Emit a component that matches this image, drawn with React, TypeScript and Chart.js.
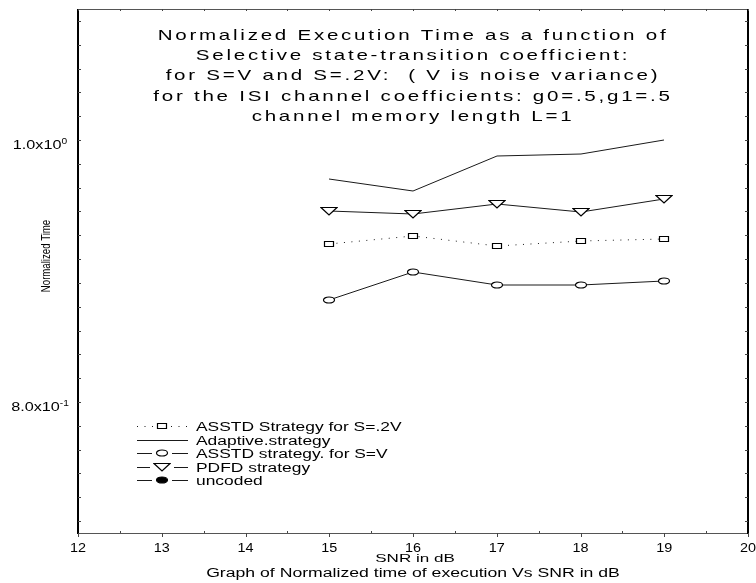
import React, { useEffect, useRef } from 'react';
import { Chart, registerables } from 'chart.js';

Chart.register(...registerables);

// ---------------- data ----------------
const snrDb = [15, 16, 17, 18, 19];
const asstd02V = [0.9204, 0.927, 0.919, 0.923, 0.9245];
const adaptive = [0.970, 0.961, 0.988, 0.989, 1.0];
const asstdV = [0.878, 0.899, 0.889, 0.889, 0.892];
const pdfd = [0.946, 0.9435, 0.951, 0.945, 0.955];
const uncoded: number[] = [];

const seriesLabels = [
  'ASSTD Strategy for S=.2V',
  'Adaptive.strategy',
  'ASSTD strategy. for S=V',
  'PDFD strategy',
  'uncoded',
];

const xTickValues = [12, 13, 14, 15, 16, 17, 18, 19, 20];
const xTickLabels = ['12', '13', '14', '15', '16', '17', '18', '19', '20'];
const yTickValues = [1.0, 0.8];
const yTickMantissas = ['1.0x10', '8.0x10'];
const yTickExponents = ['0', '-1'];
const yMinorPerLabel = 11;

const titleLines = [
  'Normalized Execution Time as a function of',
  'Selective state-transition coefficient:',
  'for S=V and S=.2V:  ( V is noise variance)',
  'for the ISI channel coefficients: g0=.5,g1=.5',
  'channel memory length L=1',
];
const xTitle = 'SNR in dB';
const caption = 'Graph of Normalized time of execution Vs SNR in dB';
const yTitle = 'Normalized Time';

// ---------------- helpers ----------------
const FONT = '"Liberation Sans", Arial, Helvetica, sans-serif';
const INK = '#1a1a1a';

function drawText(
  ctx: CanvasRenderingContext2D,
  text: string,
  x: number,
  y: number,
  size: number,
  sx: number,
  align: CanvasTextAlign = 'center',
  ls = 0
) {
  ctx.save();
  ctx.font = `${size}px ${FONT}`;
  (ctx as any).letterSpacing = `${ls}px`;
  ctx.fillStyle = '#000';
  ctx.textAlign = align;
  ctx.textBaseline = 'alphabetic';
  ctx.translate(x, y);
  ctx.scale(sx, 1);
  ctx.fillText(text, 0, 0);
  ctx.restore();
}

type MarkerKind = 'circle' | 'square' | 'triangle' | 'dot';

function makeMarker(kind: MarkerKind): HTMLCanvasElement {
  const c = document.createElement('canvas');
  const dims: Record<MarkerKind, [number, number]> = {
    circle: [14, 8],
    square: [12, 8],
    triangle: [18, 10],
    dot: [14, 8],
  };
  const [w, h] = dims[kind];
  c.width = w;
  c.height = h;
  const g = c.getContext('2d')!;
  g.lineWidth = 1.2;
  g.strokeStyle = '#000';
  g.fillStyle = kind === 'dot' ? '#000' : '#fff';
  g.beginPath();
  if (kind === 'circle' || kind === 'dot') {
    g.ellipse(w / 2, h / 2, 5.5, 3, 0, 0, Math.PI * 2);
  } else if (kind === 'square') {
    g.rect(1.5, 1.5, 9, 5);
  } else {
    g.moveTo(1, 1.5);
    g.lineTo(w - 1, 1.5);
    g.lineTo(w / 2, h - 1);
    g.closePath();
  }
  g.fill();
  g.stroke();
  return c;
}

function pts(ys: number[]) {
  return ys.map((y, i) => ({ x: snrDb[i], y }));
}

export default function App() {
  const canvasRef = useRef<HTMLCanvasElement | null>(null);

  useEffect(() => {
    const canvas = canvasRef.current;
    if (!canvas) return;

    const markers = {
      square: makeMarker('square'),
      circle: makeMarker('circle'),
      triangle: makeMarker('triangle'),
      dot: makeMarker('dot'),
    };

    // snap points to whole pixels so the marker images stay crisp
    const snapPlugin = {
      id: 'snapPoints',
      beforeDatasetsDraw(chart: any) {
        chart.data.datasets.forEach((_: any, i: number) => {
          const meta = chart.getDatasetMeta(i);
          meta.data.forEach((el: any) => {
            el.x = Math.round(el.x);
            el.y = Math.round(el.y);
          });
        });
      },
    };

    const framePlugin = {
      id: 'frameAndText',
      afterDraw(chart: any) {
        const ctx: CanvasRenderingContext2D = chart.ctx;
        const { left, right, top, bottom } = chart.chartArea;
        const xs = chart.scales.x;
        const ys = chart.scales.y;
        const cx = (left + right) / 2;

        ctx.save();
        ctx.lineCap = 'butt';
        ctx.strokeStyle = '#555';
        ctx.lineWidth = 1;
        ctx.beginPath();
        ctx.moveTo(left, top + 0.5);
        ctx.lineTo(right, top + 0.5);
        ctx.moveTo(left, bottom + 0.5);
        ctx.lineTo(right, bottom + 0.5);
        ctx.stroke();
        ctx.strokeStyle = '#000';
        ctx.lineWidth = 2;
        ctx.beginPath();
        ctx.moveTo(left, top);
        ctx.lineTo(left, bottom + 1);
        ctx.moveTo(right, top);
        ctx.lineTo(right, bottom + 1);
        ctx.stroke();

        const step = (yTickValues[0] - yTickValues[1]) / yMinorPerLabel;
        ctx.strokeStyle = '#444';
        ctx.lineWidth = 1;
        ctx.beginPath();
        for (let k = -40; k <= 40; k++) {
          const v = yTickValues[0] + k * step;
          if (v <= ys.min || v >= ys.max) continue;
          const py = Math.round(ys.getPixelForValue(v)) + 0.5;
          ctx.moveTo(left, py);
          ctx.lineTo(left + 3, py);
          ctx.moveTo(right, py);
          ctx.lineTo(right - 3, py);
        }
        for (let i = 0; i < xTickValues.length; i++) {
          const px = Math.round(xs.getPixelForValue(xTickValues[i])) + 0.5;
          ctx.moveTo(px, bottom);
          ctx.lineTo(px, bottom + 4);
          if (i < xTickValues.length - 1) {
            const mid =
              Math.round(xs.getPixelForValue((xTickValues[i] + xTickValues[i + 1]) / 2)) + 0.5;
            ctx.moveTo(mid, bottom);
            ctx.lineTo(mid, bottom - 2);
            ctx.moveTo(mid, top);
            ctx.lineTo(mid, top + 2);
          }
          ctx.moveTo(px, top);
          ctx.lineTo(px, top + 2);
        }
        ctx.stroke();
        ctx.restore();

        xTickValues.forEach((v, i) => {
          drawText(ctx, xTickLabels[i], xs.getPixelForValue(v), bottom + 19, 12, 1.2);
        });

        yTickValues.forEach((v, i) => {
          const py = ys.getPixelForValue(v);
          const sx = 1.35;
          ctx.save();
          ctx.font = `12px ${FONT}`;
          const wm = ctx.measureText(yTickMantissas[i]).width;
          ctx.font = `8.5px ${FONT}`;
          const we = ctx.measureText(yTickExponents[i]).width;
          ctx.restore();
          const total = sx * wm + 1.2 * we;
          const start = 40 - total / 2;
          drawText(ctx, yTickMantissas[i], start, py + 9, 12, sx, 'left');
          drawText(ctx, yTickExponents[i], start + sx * wm, py + 4, 8.5, 1.2, 'left');
        });

        titleLines.forEach((line, i) => {
          drawText(ctx, line, cx, top + 31 + i * 20.2, 15, 1.37, 'center', 2);
        });

        drawText(ctx, xTitle, cx + 2, bottom + 29, 11, 1.55, 'center');
        drawText(ctx, caption, cx, bottom + 44, 12, 1.47, 'center');

        ctx.save();
        ctx.font = `13px ${FONT}`;
        ctx.fillStyle = '#000';
        ctx.textAlign = 'center';
        ctx.textBaseline = 'middle';
        ctx.translate(46, 256);
        ctx.rotate(-Math.PI / 2);
        ctx.scale(0.74, 1);
        ctx.fillText(yTitle, 0, 0);
        ctx.restore();

        // legend
        const datasets = chart.data.datasets;
        const lx0 = 137;
        const lx1 = 188;
        const mx = 162;
        const rowY0 = 426;
        const rowH = 13.5;
        datasets.forEach((ds: any, i: number) => {
          const y = Math.round(rowY0 + i * rowH);
          const yy = y + 0.5;
          ctx.save();
          ctx.strokeStyle = ds.borderColor;
          ctx.lineWidth = 1;
          ctx.setLineDash(ds.borderDash || []);
          const img: HTMLCanvasElement | null =
            ds.pointRadius > 0 && ds.pointStyle instanceof HTMLCanvasElement ? ds.pointStyle : null;
          ctx.beginPath();
          if (img) {
            const hw = img.width / 2 + 3;
            ctx.moveTo(lx0, yy);
            ctx.lineTo(mx - hw, yy);
            ctx.moveTo(mx + hw, yy);
            ctx.lineTo(lx1, yy);
          } else {
            ctx.moveTo(lx0, yy);
            ctx.lineTo(lx1, yy);
          }
          ctx.stroke();
          ctx.setLineDash([]);
          if (img) {
            ctx.drawImage(img, Math.round(mx - img.width / 2), Math.round(y - img.height / 2));
          }
          ctx.restore();
          drawText(ctx, ds.label, 196, y + 4.5, 12, 1.45, 'left');
        });
      },
    };

    const common = {
      borderColor: INK,
      borderWidth: 1,
      backgroundColor: '#fff',
      tension: 0,
      fill: false,
    };

    const chart = new Chart(canvas, {
      type: 'line',
      data: {
        datasets: [
          {
            ...common,
            label: seriesLabels[0],
            data: pts(asstd02V),
            borderDash: [1, 6.5],
            pointStyle: markers.square,
            pointRadius: 5,
          },
          {
            ...common,
            label: seriesLabels[1],
            data: pts(adaptive),
            pointRadius: 0,
          },
          {
            ...common,
            label: seriesLabels[2],
            data: pts(asstdV),
            pointStyle: markers.circle,
            pointRadius: 5,
          },
          {
            ...common,
            label: seriesLabels[3],
            data: pts(pdfd),
            pointStyle: markers.triangle,
            pointRadius: 5,
          },
          {
            ...common,
            label: seriesLabels[4],
            data: pts(uncoded),
            pointStyle: markers.dot,
            pointRadius: 5,
          },
        ] as any,
      },
      options: {
        animation: false,
        responsive: true,
        maintainAspectRatio: false,
        devicePixelRatio: 1,
        layout: { padding: { left: 78, top: 9, right: 8, bottom: 50 } },
        plugins: {
          legend: { display: false },
          tooltip: { enabled: false },
          title: { display: false },
        },
        scales: {
          x: { type: 'linear', min: xTickValues[0], max: xTickValues[xTickValues.length - 1], display: false },
          y: { type: 'linear', min: 0.7, max: 1.1, display: false },
        },
        events: [],
      } as any,
      plugins: [snapPlugin, framePlugin],
    });

    return () => {
      chart.destroy();
    };
  }, []);

  return (
    <div style={{ position: 'absolute', left: 0, top: 0, width: 756, height: 583, background: '#fff' }}>
      <canvas ref={canvasRef} />
    </div>
  );
}
